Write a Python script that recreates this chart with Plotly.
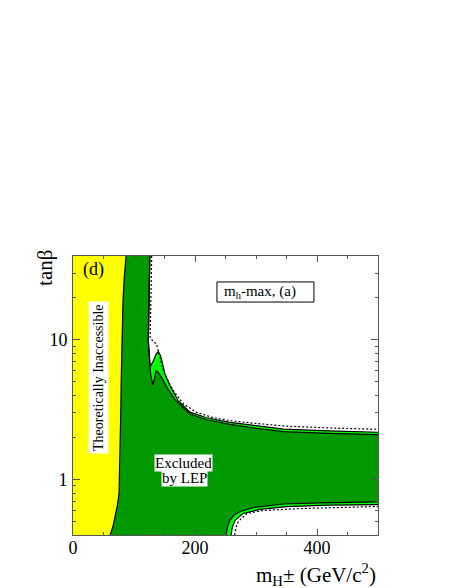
import plotly.graph_objects as go

# axis limits
MH_MIN, MH_MAX = 0, 500
TB_MIN, TB_MAX = 0.4, 40

# theoretical limit (left border of the allowed region)
theo_mh = [87, 84, 82, 80, 79, 78.3, 77.5, 77, 75.5, 73, 70, 66, 61]
theo_tb = [40, 28, 19, 10, 5, 3, 1.8, 1.0, 0.8, 0.66, 0.56, 0.47, 0.40]

# observed exclusion, 95% CL (outer border) - high tanb branch
obs95_hi_mh = [126, 125, 124, 123.5, 125, 126.2, 131.7, 136, 139.9, 143.7, 147, 150.8,
               159, 172.5, 191.8, 219, 257, 300, 345, 420, 500]
obs95_hi_tb = [40, 19, 13.6, 9.8, 7.9, 6.4, 7.08, 7.9, 8.26, 7.69, 6.71, 5.69,
               4.70, 3.67, 3.04, 2.77, 2.57, 2.44, 2.30, 2.23, 2.18]
# observed exclusion, 99.7% CL (inner border) - high tanb branch
obs99_hi_mh = [126, 125, 124, 123.5, 125, 126.2, 127.3, 130.6, 132.8, 136, 139.9, 145.4,
               153, 168.5, 191.8, 219, 257, 300, 345, 420, 500]
obs99_hi_tb = [40, 19, 13.6, 9.8, 7.9, 6.4, 5.69, 4.78, 5.10, 6.01, 5.85, 5.39,
               4.65, 3.67, 2.95, 2.68, 2.48, 2.33, 2.20, 2.14, 2.10]
# expected exclusion - high tanb branch
exp_hi_mh = [129, 128, 126.5, 131.7, 137, 141.5, 148, 156, 164.5, 181, 202.7, 230, 263,
             301, 345, 420, 500]
exp_hi_tb = [40, 19, 10.3, 9.8, 9.3, 7.9, 6.0, 5.1, 4.33, 3.48, 3.03, 2.77, 2.62,
             2.52, 2.42, 2.34, 2.29]

# low tanb branch
obs95_lo_mh = [259, 261, 265.6, 279, 306.6, 350, 420, 500]
obs95_lo_tb = [0.40, 0.45, 0.51, 0.57, 0.61, 0.64, 0.655, 0.66]
obs99_lo_mh = [251, 253, 257, 265, 274, 296, 345, 405, 500]
obs99_lo_tb = [0.40, 0.45, 0.51, 0.56, 0.59, 0.63, 0.667, 0.68, 0.69]
exp_lo_mh = [265, 267, 271, 285, 312, 377.5, 500]
exp_lo_tb = [0.40, 0.45, 0.50, 0.57, 0.60, 0.62, 0.64]

DARK_GREEN = "#009a00"
LIGHT_GREEN = "#00ff00"
YELLOW = "#ffff00"
FONT = "Liberation Serif"


def region(hi_mh, hi_tb, lo_mh, lo_tb):
    xs = [MH_MIN] + hi_mh + lo_mh[::-1] + [MH_MIN]
    ys = [TB_MAX] + hi_tb + lo_tb[::-1] + [TB_MIN]
    return xs, ys


fig = go.Figure()

x95, y95 = region(obs95_hi_mh, obs95_hi_tb, obs95_lo_mh, obs95_lo_tb)
fig.add_trace(go.Scatter(x=x95, y=y95, fill="toself", fillcolor=LIGHT_GREEN,
                         mode="none", hoverinfo="skip"))
x99, y99 = region(obs99_hi_mh, obs99_hi_tb, obs99_lo_mh, obs99_lo_tb)
fig.add_trace(go.Scatter(x=x99, y=y99, fill="toself", fillcolor=DARK_GREEN,
                         mode="none", hoverinfo="skip"))
fig.add_trace(go.Scatter(x=[MH_MIN, MH_MIN] + theo_mh, y=[TB_MIN, TB_MAX] + theo_tb,
                         fill="toself", fillcolor=YELLOW, mode="none", hoverinfo="skip"))

# contour lines
for xs, ys in [(theo_mh, theo_tb), (obs95_hi_mh, obs95_hi_tb), (obs99_hi_mh, obs99_hi_tb),
               (obs95_lo_mh, obs95_lo_tb), (obs99_lo_mh, obs99_lo_tb)]:
    fig.add_trace(go.Scatter(x=xs, y=ys, mode="lines", line=dict(color="black", width=1.2),
                             hoverinfo="skip"))
for xs, ys in [(exp_hi_mh, exp_hi_tb), (exp_lo_mh, exp_lo_tb)]:
    fig.add_trace(go.Scatter(x=xs, y=ys, mode="lines",
                             line=dict(color="black", width=1.2, dash="2px,2px"),
                             hoverinfo="skip"))

axis_col = "#555555"
fig.update_xaxes(
    range=[MH_MIN, MH_MAX], showline=True, linecolor=axis_col, linewidth=1, mirror="allticks",
    ticks="inside", ticklen=6, tickcolor=axis_col, tickvals=[0, 200, 400],
    minor=dict(ticks="inside", ticklen=3, tickcolor=axis_col,
               tickvals=[50, 100, 150, 250, 300, 350, 450]),
    showgrid=False, zeroline=False, tickfont=dict(family=FONT, size=18, color="black"),
    ticklabelstandoff=-4,
)
fig.update_yaxes(
    type="log", range=[-0.39794, 1.60206], showline=True, linecolor=axis_col, linewidth=1,
    mirror="allticks", ticks="inside", ticklen=7, tickcolor=axis_col,
    tickvals=[1, 10], ticktext=["1", "10"],
    minor=dict(ticks="inside", ticklen=3, tickcolor=axis_col,
               tickvals=[0.4, 0.5, 0.6, 0.7, 0.8, 0.9, 2, 3, 4, 5, 6, 7, 8, 9, 20, 30]),
    showgrid=False, zeroline=False, tickfont=dict(family=FONT, size=18, color="black"),
    ticklabelstandoff=1,
)


def label(text, x, y, size, **kw):
    fig.add_annotation(text=text, xref="paper", yref="paper", x=x, y=y,
                       xanchor=kw.pop("xanchor", "center"), yanchor="middle",
                       showarrow=False, font=dict(family=FONT, size=size, color="black"), **kw)


# framed scenario box, wider than its text
fig.add_shape(type="rect", xref="paper", yref="paper", x0=0.472, x1=0.790, y0=0.835, y1=0.907,
              fillcolor="white", line=dict(color="black", width=1))

label("tanβ", -0.092, 0.957, 21, textangle=-90)
label("m<sub>H</sub>± (GeV/c<sup>2</sup>)", 1.0, -0.14, 21, xanchor="right")
label("(d)", 0.066, 0.95, 18)
label("m<sub>h</sub>-max, (a)", 0.487, 0.871, 15, xanchor="left")
label("Theoretically Inaccessible", 0.0836, 0.5645, 14, textangle=-90, bgcolor="white",
      borderpad=2)
label("Excluded", 0.363, 0.258, 15, bgcolor="white", borderpad=0)
label("by LEP", 0.365, 0.203, 15, bgcolor="white", borderpad=0)

# the page body adds an 8px offset, so the figure is drawn 8px smaller
fig.update_layout(
    width=446, height=580, autosize=False,
    margin=dict(l=65, r=76, t=248, b=53),
    paper_bgcolor="white", plot_bgcolor="white",
    showlegend=False,
)

fig.write_html("out.html")
